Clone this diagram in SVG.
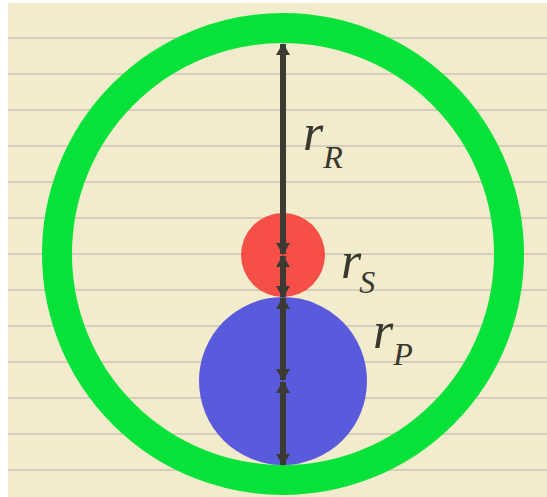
<svg xmlns="http://www.w3.org/2000/svg" width="547" height="497" viewBox="0 0 547 497">
<defs>
<style>
.rule{stroke:#d8cdb8;stroke-width:2}
.arr{stroke:#3b3b33;stroke-width:6;fill:none}
.lbl{font-family:"Liberation Serif",serif;font-style:italic;fill:#38382e}
.sub{font-size:32px}
</style>
<marker id="ah" viewBox="0 0 12 14" refX="11" refY="7" markerWidth="12" markerHeight="14" markerUnits="userSpaceOnUse" orient="auto-start-reverse">
<path d="M0,0 L12,7 L0,14 Z" fill="#3b3b33"/>
</marker>
</defs>
<rect x="0" y="0" width="547" height="497" fill="#ffffff"/>
<rect x="8" y="3" width="539" height="494" fill="#f2ebcc"/>
<g id="rules">
<line class="rule" x1="8" y1="38" x2="547" y2="38"/>
<line class="rule" x1="8" y1="74" x2="547" y2="74"/>
<line class="rule" x1="8" y1="110" x2="547" y2="110"/>
<line class="rule" x1="8" y1="146" x2="547" y2="146"/>
<line class="rule" x1="8" y1="182" x2="547" y2="182"/>
<line class="rule" x1="8" y1="218" x2="547" y2="218"/>
<line class="rule" x1="8" y1="254" x2="547" y2="254"/>
<line class="rule" x1="8" y1="290" x2="547" y2="290"/>
<line class="rule" x1="8" y1="326" x2="547" y2="326"/>
<line class="rule" x1="8" y1="362" x2="547" y2="362"/>
<line class="rule" x1="8" y1="398" x2="547" y2="398"/>
<line class="rule" x1="8" y1="434" x2="547" y2="434"/>
<line class="rule" x1="8" y1="470" x2="547" y2="470"/>
</g>
<g id="ring"><circle cx="283" cy="254" r="226" fill="none" stroke="#06e23a" stroke-width="30"/></g>
<g id="sun"><circle cx="283" cy="255" r="42" fill="#f4473f" fill-opacity="0.95"/></g>
<g id="planet"><circle cx="283" cy="381" r="84" fill="#5555dd" fill-opacity="0.97"/></g>
<g id="connectors">
<line class="arr" x1="283" y1="44" x2="283" y2="254" marker-start="url(#ah)" marker-end="url(#ah)"/>
<line class="arr" x1="283" y1="256" x2="283" y2="297" marker-start="url(#ah)" marker-end="url(#ah)"/>
<line class="arr" x1="283" y1="298" x2="283" y2="380" marker-start="url(#ah)" marker-end="url(#ah)"/>
<line class="arr" x1="283" y1="382" x2="283" y2="465" marker-start="url(#ah)" marker-end="url(#ah)"/>
</g>
<g id="labels">
<text class="lbl" x="303" y="150" font-size="52">r<tspan class="sub" dy="18">R</tspan></text>
<text class="lbl" x="341" y="278" font-size="52">r<tspan class="sub" dx="-2" dy="15">S</tspan></text>
<text class="lbl" x="373" y="348" font-size="52">r<tspan class="sub" dy="17">P</tspan></text>
</g>
</svg>
